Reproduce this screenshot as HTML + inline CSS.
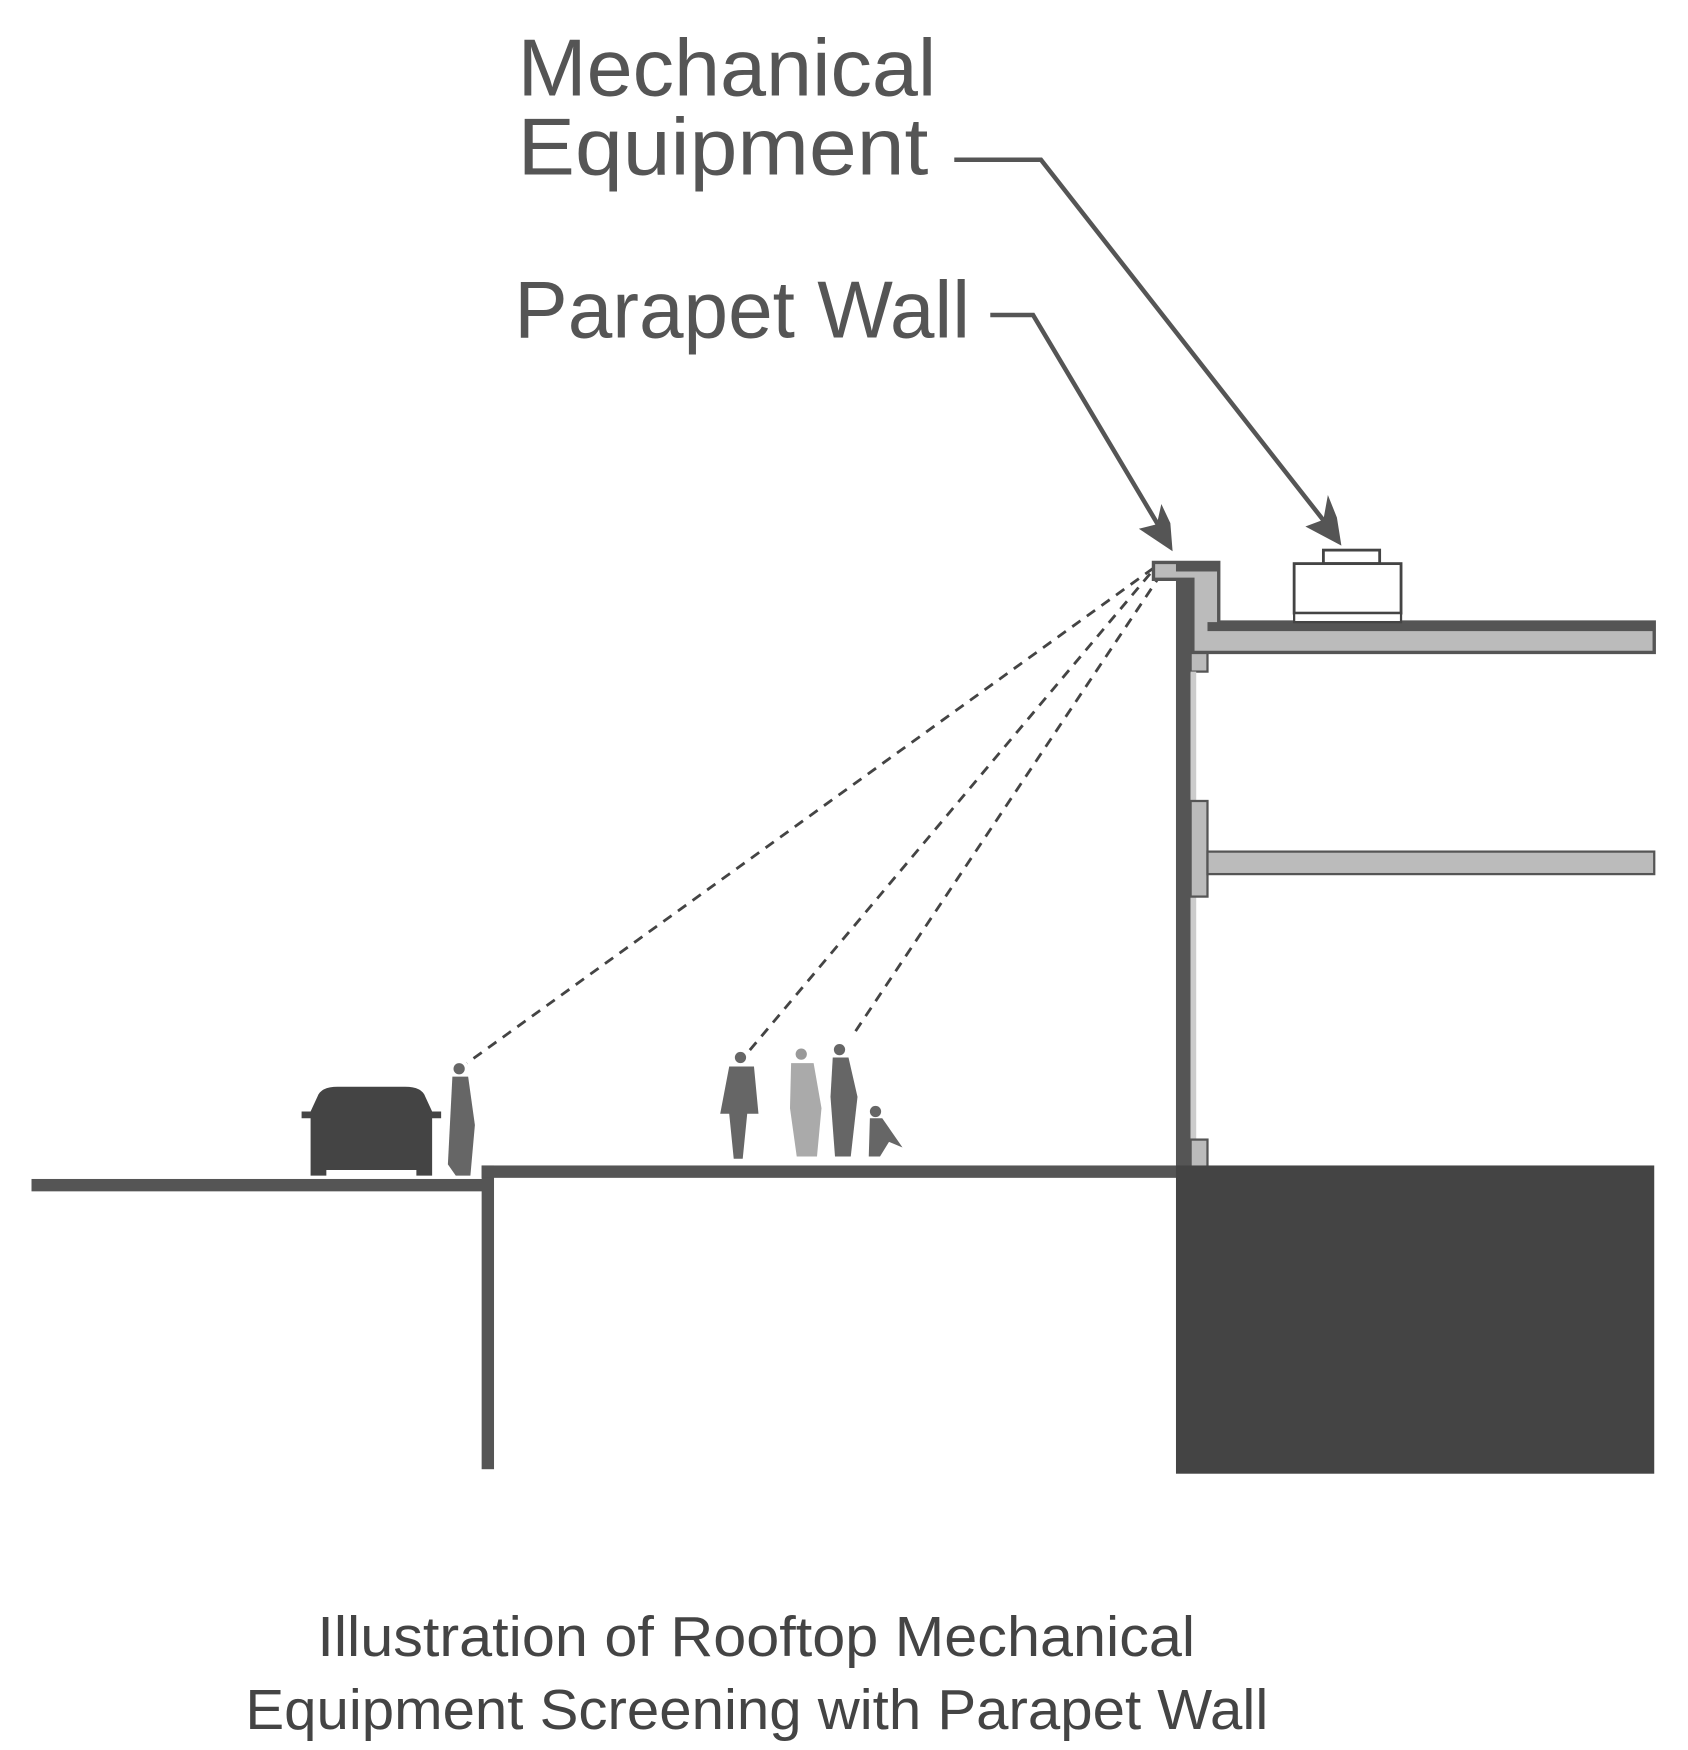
<!DOCTYPE html>
<html><head><meta charset="utf-8"><style>html,body{margin:0;padding:0;background:#fff}svg{display:block}</style></head>
<body>
<svg width="1688" height="1750" viewBox="0 0 1500 1555.6" preserveAspectRatio="none" xmlns="http://www.w3.org/2000/svg">
<rect width="1500" height="1556" fill="#fff"/>
<g font-family="'Liberation Sans', sans-serif" fill="#555">
<text x="460" y="85" font-size="72" textLength="372" lengthAdjust="spacingAndGlyphs">Mechanical</text>
<text x="460" y="155" font-size="72" textLength="365" lengthAdjust="spacingAndGlyphs">Equipment</text>
<text x="457" y="300" font-size="72" textLength="405" lengthAdjust="spacingAndGlyphs">Parapet Wall</text>
</g>
<g font-family="'Liberation Sans', sans-serif" fill="#444">
<text x="282" y="1472" font-size="50" textLength="780" lengthAdjust="spacingAndGlyphs">Illustration of Rooftop Mechanical</text>
<text x="218" y="1537" font-size="50" textLength="909" lengthAdjust="spacingAndGlyphs">Equipment Screening with Parapet Wall</text>
</g>
<!-- leaders -->
<g stroke="#555" stroke-width="4" fill="none">
<polyline points="848,142 925,142 1178,465"/>
<polyline points="880,280 918,280 1030,468"/>
</g>
<polygon points="1192,485 1160,468 1176,462 1180,440 1188,460" fill="#555"/>
<polygon points="1042,490 1012,470 1028,466 1032,448 1040,465" fill="#555"/>
<!-- dashed sightlines -->
<g stroke="#444" stroke-width="2.5" stroke-dasharray="9,7" fill="none">
<line x1="1025" y1="505" x2="415" y2="945"/>
<line x1="1022" y1="510" x2="665" y2="935"/>
<line x1="1032" y1="510" x2="758" y2="920"/>
</g>
<!-- building -->
<rect x="1045" y="515" width="13" height="525" fill="#555"/>
<rect x="1058" y="515" width="15" height="82" fill="#bbb" stroke="#555" stroke-width="2"/>
<path d="M1025,500 H1083 V553 H1470 V580 H1060 V515 H1025 Z" fill="#bbb" stroke="#555" stroke-width="3"/>
<rect x="1045" y="500" width="38" height="8" fill="#555"/>
<rect x="1073" y="553" width="397" height="8" fill="#555"/>
<rect x="1058" y="597" width="5" height="420" fill="#ccc"/>
<rect x="1058" y="712" width="15" height="85" fill="#bbb" stroke="#555" stroke-width="2"/>
<rect x="1073" y="757" width="397" height="20" fill="#bbb" stroke="#555" stroke-width="2"/>
<rect x="1058" y="1013" width="15" height="25" fill="#bbb" stroke="#555" stroke-width="2"/>
<!-- equipment -->
<rect x="1176" y="489" width="50" height="12" fill="#fff" stroke="#444" stroke-width="2.5"/>
<rect x="1150" y="501" width="95" height="44" fill="#fff" stroke="#444" stroke-width="2.5"/>
<rect x="1150" y="545" width="95" height="8" fill="#fff" stroke="#444" stroke-width="2"/>
<!-- ground -->
<rect x="28" y="1048" width="410" height="11" fill="#555"/>
<rect x="428" y="1036" width="11" height="270" fill="#555"/>
<rect x="428" y="1036" width="620" height="11" fill="#555"/>
<rect x="1045" y="1036" width="425" height="274" fill="#444"/>
<!-- car -->
<path d="M282,975 Q285,966 300,966 H360 Q375,966 378,975 L384,988 H392 V994 H384 V1045 H370 V1040 H290 V1045 H276 V994 H268 V988 H276 Z" fill="#444"/>
<!-- people -->
<g fill="#666">
<circle cx="408" cy="950" r="5"/><path d="M402,957 H416 L422,1000 L418,1045 H405 L398,1035 Z"/>
<circle cx="658" cy="940" r="5"/><path d="M648,948 H670 L674,990 L664,990 L660,1030 H652 L648,990 H640 Z"/>
<circle cx="712" cy="937" r="5" fill="#999"/><path d="M703,945 H723 L730,985 L726,1028 H708 L702,985 Z" fill="#aaa"/>
<circle cx="746" cy="933" r="5"/><path d="M740,940 H754 L762,975 L756,1028 H742 L738,975 Z"/>
<circle cx="778" cy="988" r="5"/><path d="M773,994 H784 L802,1020 L790,1015 L782,1028 H772 Z"/>
</g>
</svg>
</body></html>
